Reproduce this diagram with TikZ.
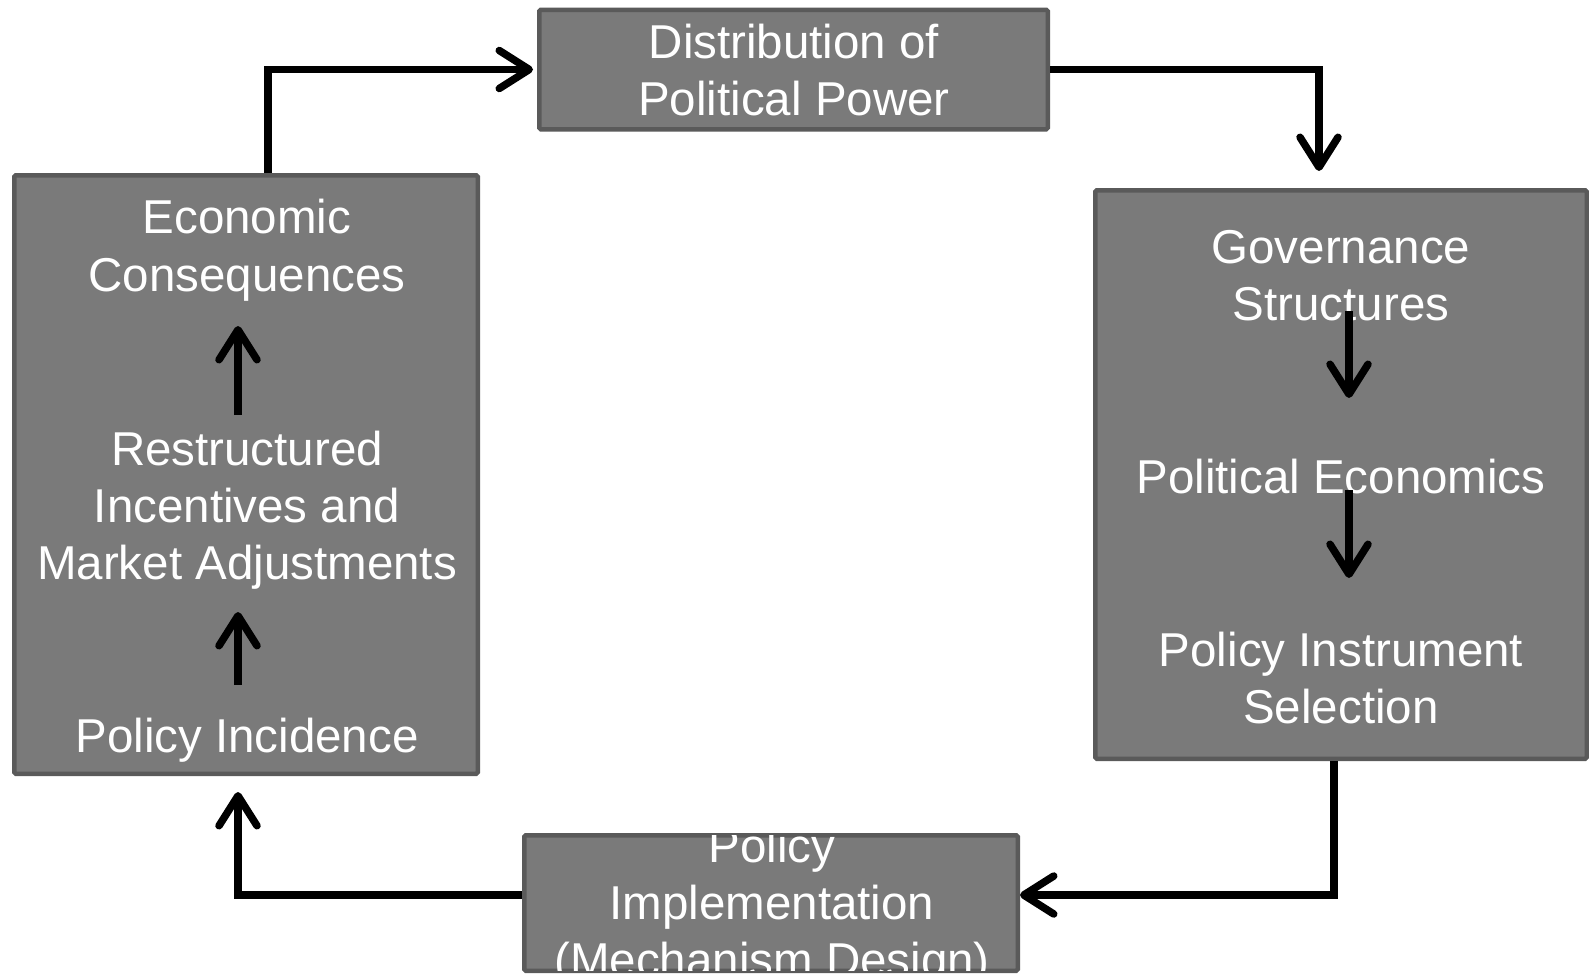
\documentclass[tikz,border=0pt]{standalone}
\usepackage{fontspec}
\setmainfont{Liberation Sans}
\usetikzlibrary{arrows.meta}
\definecolor{boxfill}{HTML}{7A7A7A}
\definecolor{boxline}{HTML}{5A5A5A}
\tikzset{
  box/.style={draw=boxline, fill=boxfill, line width=4.5pt, rounded corners=1.5pt, inner sep=0pt},
  lbl/.style={text=white, font=\fontsize{47.5}{57}\selectfont, inner sep=0pt, anchor=base},
  conn/.style={line width=7.5pt, line join=miter, -{Straight Barb[length=30pt,width=38pt,round]}},
}
\begin{document}
\begin{tikzpicture}[x=1pt,y=-1pt]
\useasboundingbox (0,0) rectangle (1589,975);
\fill[white] (0,0) rectangle (1589,975);
% boxes
\node[box, minimum width=508.5pt, minimum height=119.5pt] (tbox) at (793.5,69.5) {};
\node[box, minimum width=463.5pt, minimum height=598.5pt] (lbox) at (246,474.5) {};
\node[box, minimum width=491.5pt, minimum height=568.5pt] (rbox) at (1341,474.5) {};
\node[box, minimum width=493.5pt, minimum height=135.5pt] (bbox) at (771,903) {};
% top text
\node[lbl] (d1) at (794,58) {Distribution of};
\node[lbl] (d2) at (794,115) {Political Power};
% left text
\node[lbl] (e1) at (247,233) {Economic};
\node[lbl] (e2) at (247,291) {Consequences};
\node[lbl] (r1) at (247,465) {Restructured};
\node[lbl] (r2) at (247,522) {Incentives and};
\node[lbl] (r3) at (247,579) {Market Adjustments};
\node[lbl] (pin) at (247,752) {Policy Incidence};
% right text
\node[lbl] (g1) at (1341,263) {Governance};
\node[lbl] (g2) at (1341,320) {Structures};
\node[lbl] (pe) at (1341,493) {Political Economics};
\node[lbl] (s1) at (1341,666) {Policy Instrument};
\node[lbl] (s2) at (1341,723) {Selection};
% bottom text (clipped to the box, as in the original)
\begin{scope}
\clip (524.25,835.25) rectangle (1017.75,970.75);
\node[lbl] (m1) at (772,862) {Policy};
\node[lbl] (m2) at (772,919) {Implementation};
\node[lbl] (m3) at (772,976) {(Mechanism Design)};
\end{scope}
% inner arrow coordinates
\coordinate (la1) at (238,415);
\coordinate (lb1) at (238,326);
\coordinate (la2) at (238,685);
\coordinate (lb2) at (238,612);
\coordinate (ra1) at (1349,311);
\coordinate (rb1) at (1349,398);
\coordinate (ra2) at (1349,490);
\coordinate (rb2) at (1349,578);
\draw[conn] (la1) -- (lb1);
\draw[conn] (la2) -- (lb2);
\draw[conn] (ra1) -- (rb1);
\draw[conn] (ra2) -- (rb2);
% outer connectors
\draw[conn, shorten >=4pt] ([xshift=22pt]lbox.north) |- (tbox.west);
\draw[conn, shorten >=17pt] (tbox.east) -| ([xshift=-22pt]rbox.north);
\draw[conn] ([xshift=-7pt]rbox.south) |- ([yshift=8pt]bbox.east);
\draw[conn, shorten >=16pt] ([yshift=8pt]bbox.west) -| ([xshift=-8pt]lbox.south);
\end{tikzpicture}
\end{document}
